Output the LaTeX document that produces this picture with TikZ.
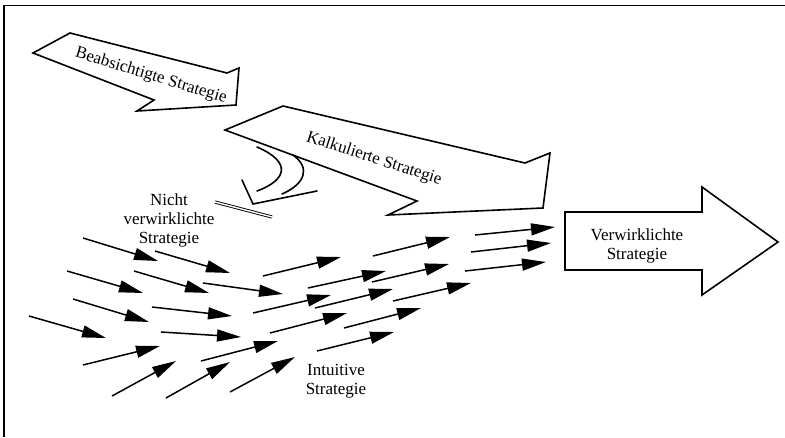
\documentclass[tikz,border=0pt]{standalone}
\usepackage{fontspec}
\setmainfont{Liberation Serif}
\usetikzlibrary{
  arrows.meta     % triangle tips of the small arrows
}
\tikzset{
  txt/.style = {
    align=center,
    inner sep=0pt,
    font=\fontsize{17}{19}\selectfont
  },
  bigarrow/.style = {draw, fill=white, line width=1.6pt, line join=miter},
  flow/.style = {-{Triangle[length=24pt,width=12pt]}, line width=1.5pt},
  stroke/.style = {line width=1.6pt, line cap=round},
  frameline/.style = {line width=1.8pt}
}

\begin{document}
\begin{tikzpicture}[x=1pt,y=-1pt]

  \useasboundingbox (0,0) rectangle (785,437);

  %% frame
  \draw[frameline] (785,5.5) -- (4,5.5) -- (4,437);

  %% big arrows
  \draw[bigarrow] (33,53) -- (70,33) -- (227,73) -- (239,68) -- (236,105)
    -- (137,111) -- (154,100) -- cycle;
  \draw[bigarrow] (225,130) -- (283,106) -- (525,163) -- (550,153) -- (543,208)
    -- (388,215) -- (417,201) -- cycle;
  \draw[bigarrow] (565,212) -- (702,212) -- (702,187) -- (778,242) -- (702,295)
    -- (702,270) -- (565,270) -- cycle;

  %% nodes
  \node[txt, rotate=-17] (BS) at (151,76)  {Beabsichtigte Strategie};
  \node[txt, rotate=-18] (KS) at (374,159) {Kalkulierte Strategie};
  \node[txt]             (VS) at (637,246) {Verwirklichte\\Strategie};
  \node[txt]             (NS) at (169,220) {Nicht\\verwirklichte\\Strategie};
  \node[txt]             (IS) at (336,381) {Intuitive\\Strategie};

  %% broken off strategy
  \draw[stroke] (257,147) .. controls (292,162) and (287,180) .. (257,191);
  \draw[stroke] (293,155) .. controls (311,168) and (305,184) .. (282,194);
  \draw[stroke] (242,180) -- (253,204) -- (317,191);
  \draw[double, double distance=1.4pt, line width=0.9pt] (215,202) -- (272,217);

  %% small arrows
  \foreach \sx/\sy/\ex/\ey [count=\n] in {
      83/238/158/261, 155/251/230/273, 67/271/143/293, 134/271/209/293,
      203/283/283/294, 73/299/149/322, 152/307/232/316, 29/316/106/338,
      161/332/241/337, 83/365/160/346, 112/396/176/361, 166/398/230/362,
      230/392/295/357, 201/361/278/341, 263/276/341/257, 373/256/450/237,
      475/235/555/227, 471/252/551/243, 465/271/546/262, 308/288/386/271,
      372/282/449/264, 253/313/331/295, 315/308/393/289, 393/301/471/283,
      270/333/347/313, 344/328/421/308, 317/351/394/332} {
    \coordinate (s\n) at (\sx,\sy);
    \coordinate (e\n) at (\ex,\ey);
    \draw[flow] (s\n) -- (e\n);
  }

\end{tikzpicture}
\end{document}
